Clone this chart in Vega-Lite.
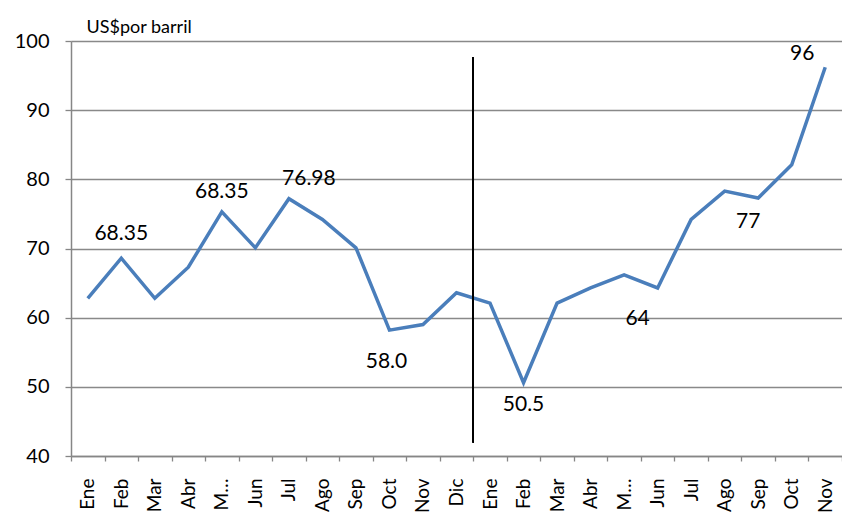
{
  "$schema": "https://vega.github.io/schema/vega-lite/v6.json",
  "width": 771,
  "height": 415,
  "autosize": {"type": "none"},
  "padding": {"left": 71, "top": 41, "right": 0, "bottom": 59},
  "background": "white",
  "config": {"view": {"stroke": null}, "font": "Lato"},
  "data": {"values": [
    {"k": "Ene-1", "v": 62.8, "lbl": ""},
    {"k": "Feb-1", "v": 68.6, "lbl": "68.35"},
    {"k": "Mar-1", "v": 62.8, "lbl": ""},
    {"k": "Abr-1", "v": 67.3, "lbl": ""},
    {"k": "May-1", "v": 75.3, "lbl": "68.35"},
    {"k": "Jun-1", "v": 70.1, "lbl": ""},
    {"k": "Jul-1", "v": 77.2, "lbl": "76.98"},
    {"k": "Ago-1", "v": 74.2, "lbl": ""},
    {"k": "Sep-1", "v": 70.1, "lbl": ""},
    {"k": "Oct-1", "v": 58.2, "lbl": "58.0"},
    {"k": "Nov-1", "v": 59.0, "lbl": ""},
    {"k": "Dic-1", "v": 63.6, "lbl": ""},
    {"k": "Ene-2", "v": 62.1, "lbl": ""},
    {"k": "Feb-2", "v": 50.6, "lbl": "50.5"},
    {"k": "Mar-2", "v": 62.1, "lbl": ""},
    {"k": "Abr-2", "v": 64.3, "lbl": ""},
    {"k": "May-2", "v": 66.2, "lbl": ""},
    {"k": "Jun-2", "v": 64.3, "lbl": "64"},
    {"k": "Jul-2", "v": 74.2, "lbl": ""},
    {"k": "Ago-2", "v": 78.3, "lbl": ""},
    {"k": "Sep-2", "v": 77.3, "lbl": "77"},
    {"k": "Oct-2", "v": 82.1, "lbl": ""},
    {"k": "Nov-2", "v": 96.2, "lbl": "96"}
  ]},
  "encoding": {
    "x": {
      "field": "k", "type": "nominal", "sort": null, "bandPosition": 0.5,
      "scale": {"type": "band", "paddingInner": 0, "paddingOuter": 0},
      "axis": {
        "title": null, "labelAngle": -90, "labelAlign": "right", "labelBaseline": "middle",
        "labelFontSize": 19, "labelColor": "#000000", "labelPadding": 17,
        "labelExpr": "split(datum.label,'-')[0] == 'May' ? 'M…' : split(datum.label,'-')[0]",
        "tickBand": "extent", "tickSize": 5, "tickColor": "#868686", "tickWidth": 1.3,
        "domainColor": "#868686", "domainWidth": 1.5, "grid": false, "labelOverlap": false
      }
    },
    "y": {
      "field": "v", "type": "quantitative",
      "scale": {"domain": [40, 100], "nice": false, "zero": false},
      "axis": {
        "values": [40, 50, 60, 70, 80, 90, 100],
        "grid": true, "gridColor": "#898989", "gridWidth": 1.3,
        "domainColor": "#868686", "domainWidth": 1.5,
        "tickSize": 6, "tickColor": "#868686", "tickWidth": 1.3,
        "labelFontSize": 20, "labelColor": "#000000", "labelPadding": 16,
        "title": "US$por barril", "titleAngle": 0, "titleAlign": "left",
        "titleBaseline": "alphabetic", "titleX": 15, "titleY": -9,
        "titleFontSize": 18, "titleFontWeight": "normal", "titleColor": "#000000"
      }
    }
  },
  "layer": [
    {"mark": {"type": "line", "color": "#4a7ebb", "strokeWidth": 3.5}},
    {
      "mark": {"type": "rule", "color": "#000000", "strokeWidth": 1.2},
      "encoding": {
        "x": {"datum": "Dic-1", "bandPosition": 1},
        "y": {"datum": 97.7},
        "y2": {"datum": 42}
      }
    },
    {"transform": [{"filter": "datum.k == 'Feb-1'"}], "mark": {"type": "text", "fontSize": 21, "color": "#000000", "baseline": "middle", "dy": -24}, "encoding": {"text": {"field": "lbl"}}},
    {"transform": [{"filter": "datum.k == 'May-1'"}], "mark": {"type": "text", "fontSize": 21, "color": "#000000", "baseline": "middle", "dy": -20}, "encoding": {"text": {"field": "lbl"}}},
    {"transform": [{"filter": "datum.k == 'Jul-1'"}], "mark": {"type": "text", "fontSize": 21, "color": "#000000", "baseline": "middle", "dx": 20, "dy": -20}, "encoding": {"text": {"field": "lbl"}}},
    {"transform": [{"filter": "datum.k == 'Oct-1'"}], "mark": {"type": "text", "fontSize": 21, "color": "#000000", "baseline": "middle", "dx": -3, "dy": 32}, "encoding": {"text": {"field": "lbl"}}},
    {"transform": [{"filter": "datum.k == 'Feb-2'"}], "mark": {"type": "text", "fontSize": 21, "color": "#000000", "baseline": "middle", "dy": 22}, "encoding": {"text": {"field": "lbl"}}},
    {"transform": [{"filter": "datum.k == 'Jun-2'"}], "mark": {"type": "text", "fontSize": 21, "color": "#000000", "baseline": "middle", "dx": -20, "dy": 31}, "encoding": {"text": {"field": "lbl"}}},
    {"transform": [{"filter": "datum.k == 'Sep-2'"}], "mark": {"type": "text", "fontSize": 21, "color": "#000000", "baseline": "middle", "dx": -10, "dy": 24}, "encoding": {"text": {"field": "lbl"}}},
    {"transform": [{"filter": "datum.k == 'Nov-2'"}], "mark": {"type": "text", "fontSize": 21, "color": "#000000", "baseline": "middle", "dx": -23, "dy": -13}, "encoding": {"text": {"field": "lbl"}}}
  ]
}
